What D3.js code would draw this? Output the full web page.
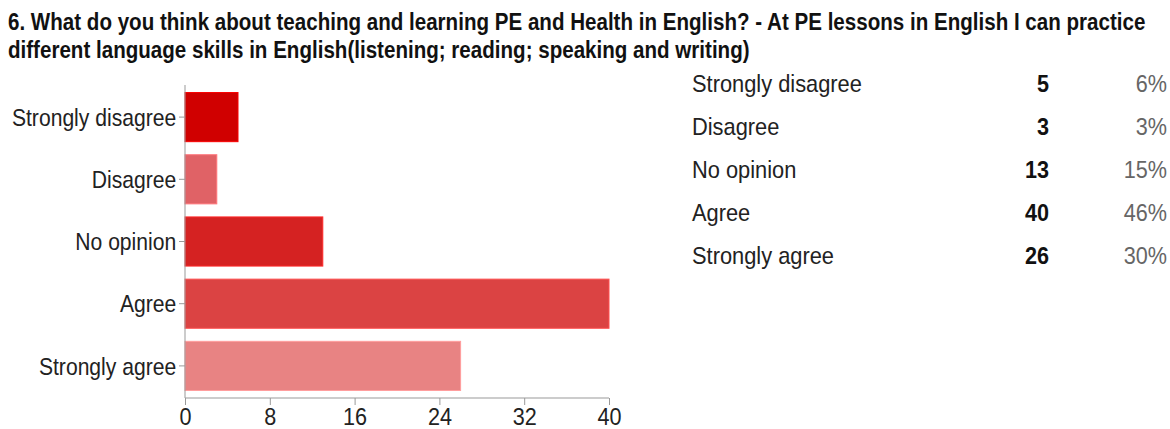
<!DOCTYPE html>
<html>
<head>
<meta charset="utf-8">
<script src="https://cdn.jsdelivr.net/npm/d3@7"></script>
<style>
  body { margin: 0; background: #fff; }
  svg { font-family: "Liberation Sans", Arial, sans-serif; }
  .tick line, .domain { stroke: #999; }
</style>
</head>
<body>
<div id="chart"></div>
<script>
var svgWidth = 1170;
var svgHeight = 429;

// data
var categories = ["Strongly disagree", "Disagree", "No opinion", "Agree", "Strongly agree"];
var counts = [5, 3, 13, 40, 26];
var percents = ["6%", "3%", "15%", "46%", "30%"];
var barColors = ["#d00000", "#e06266", "#d52222", "#db4343", "#e88383"];
var xTicks = [0, 8, 16, 24, 32, 40];
var titleLines = [
  "6. What do you think about teaching and learning PE and Health in English? - At PE lessons in English I can practice",
  "different language skills in English(listening; reading; speaking and writing)"
];

// the original font is a condensed one, so squeeze text horizontally
var squeeze = 0.9;

var svg = d3.select("#chart")
  .append("svg")
  .attr("width", svgWidth)
  .attr("height", svgHeight);

// title
svg.selectAll(".title")
  .data(titleLines)
  .enter()
  .append("text")
  .attr("class", "title")
  .attr("transform", (d, i) => `translate(8, ${30 + i * 28}) scale(0.84, 1)`)
  .attr("font-size", 24.5)
  .attr("font-weight", "bold")
  .attr("fill", "#111")
  .text(d => d);

// scales
var x = d3.scaleLinear()
  .domain([0, 40])
  .range([185, 609]);

var y = d3.scaleBand()
  .domain(categories)
  .range([86, 397])
  .paddingInner(0.21)
  .paddingOuter(0.105);

var rows = categories.map((c, i) => ({ cat: c, n: counts[i], pct: percents[i], color: barColors[i] }));

// bars
svg.selectAll("rect.bar")
  .data(rows)
  .enter()
  .append("rect")
  .attr("class", "bar")
  .attr("x", x(0))
  .attr("y", d => y(d.cat))
  .attr("width", d => x(d.n) - x(0))
  .attr("height", y.bandwidth())
  .attr("fill", d => d.color)
  .attr("stroke", d => d3.color(d.color).brighter(0.5))
  .attr("stroke-width", 1);

// axes
var bottomAxis = d3.axisBottom(x).tickValues(xTicks).tickSize(7).tickSizeOuter(0);
var leftAxis = d3.axisLeft(y).tickSize(6).tickSizeOuter(0);

var gx = svg.append("g")
  .attr("transform", "translate(0, 398)")
  .call(bottomAxis);
gx.selectAll("text")
  .attr("font-size", 24)
  .attr("fill", "#222")
  .attr("y", 10)
  .attr("font-family", null)
  .attr("transform", `scale(${squeeze}, 1)`);
gx.select(".domain").attr("d", "M" + x(0) + ",0H" + x(40));

var gy = svg.append("g")
  .attr("transform", "translate(185, 0)")
  .call(leftAxis);
gy.selectAll("text")
  .attr("font-size", 24)
  .attr("fill", "#222")
  .attr("x", -10)
  .attr("dy", "0.36em")
  .attr("font-family", null)
  .attr("transform", `scale(0.88, 1)`);
gy.select(".domain").attr("d", "M0,85V398");

// table on the right
var rowY = d3.scalePoint()
  .domain(categories)
  .range([92, 264]);

var table = svg.append("g");
table.selectAll("text.lab")
  .data(rows)
  .enter()
  .append("text")
  .attr("class", "lab")
  .attr("transform", d => `translate(692, ${rowY(d.cat)}) scale(0.91, 1)`)
  .attr("font-size", 24)
  .attr("fill", "#222")
  .text(d => d.cat);

table.selectAll("text.num")
  .data(rows)
  .enter()
  .append("text")
  .attr("class", "num")
  .attr("transform", d => `translate(1049, ${rowY(d.cat)}) scale(${squeeze}, 1)`)
  .attr("text-anchor", "end")
  .attr("font-size", 24)
  .attr("font-weight", "bold")
  .attr("fill", "#111")
  .text(d => d.n);

table.selectAll("text.pct")
  .data(rows)
  .enter()
  .append("text")
  .attr("class", "pct")
  .attr("transform", d => `translate(1167, ${rowY(d.cat)}) scale(${squeeze}, 1)`)
  .attr("text-anchor", "end")
  .attr("font-size", 24)
  .attr("fill", "#666")
  .text(d => d.pct);
</script>
</body>
</html>
